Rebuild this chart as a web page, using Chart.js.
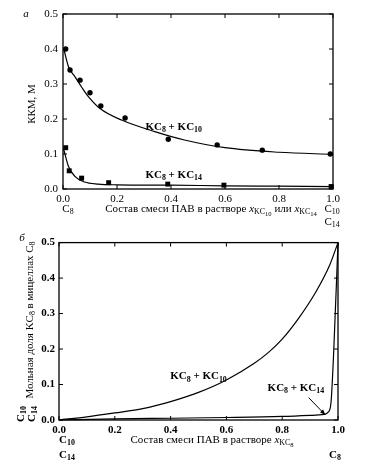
<!DOCTYPE html>
<html><head><meta charset="utf-8">
<script src="https://cdn.jsdelivr.net/npm/chart.js@4"></script>
<style>
body{margin:0;background:#fff;width:372px;height:468px;overflow:hidden;position:relative}
canvas{position:absolute;left:0}
</style></head>
<body>
<canvas id="a" width="372" height="232" style="top:0"></canvas>
<canvas id="b" width="372" height="236" style="top:232px"></canvas>
<script>
// ---- tick values ----
const xTicks = [0, 0.2, 0.4, 0.6, 0.8, 1.0];
const yTicks = [0, 0.1, 0.2, 0.3, 0.4, 0.5];

// ---- panel а : ККМ vs composition ----
const aC10PtsX   = [0.01, 0.026, 0.063, 0.10, 0.14, 0.23, 0.39, 0.571, 0.738, 0.99];
const aC10PtsY   = [0.400, 0.340, 0.311, 0.275, 0.237, 0.203, 0.142, 0.126, 0.111, 0.100];
const aC10CurveX = [0.003, 0.02, 0.044, 0.07, 0.094, 0.137, 0.217, 0.34, 0.45, 0.6, 0.8, 1.0];
const aC10CurveY = [0.400, 0.350, 0.321, 0.290, 0.264, 0.230, 0.197, 0.164, 0.140, 0.118, 0.105, 0.099];
const aC14PtsX   = [0.01, 0.023, 0.069, 0.169, 0.388, 0.596, 0.993];
const aC14PtsY   = [0.118, 0.052, 0.031, 0.018, 0.014, 0.011, 0.007];
const aC14CurveX = [0.002, 0.02, 0.044, 0.08, 0.13, 0.2, 0.4, 0.6, 0.8, 1.0];
const aC14CurveY = [0.115, 0.065, 0.036, 0.020, 0.014, 0.012, 0.011, 0.009, 0.008, 0.007];

// ---- panel б : micelle mole fraction ----
const bC10CurveX = [0, 0.1, 0.2, 0.3, 0.4, 0.5, 0.6, 0.7, 0.75, 0.8, 0.86, 0.92, 0.97, 1.0];
const bC10CurveY = [0, 0.009, 0.020, 0.032, 0.052, 0.078, 0.113, 0.160, 0.190, 0.228, 0.288, 0.360, 0.436, 0.500];
const bC14CurveX = [0, 0.2, 0.4, 0.6, 0.8, 0.9, 0.95, 0.965, 0.975, 0.985, 1.0];
const bC14CurveY = [0, 0.003, 0.005, 0.007, 0.010, 0.013, 0.016, 0.022, 0.050, 0.200, 0.500];

const SERIF = '"Liberation Serif","DejaVu Serif",serif';
function pts(xs, ys) { return xs.map((x, i) => ({x: x, y: ys[i]})); }

// rich text: parts = [[text, level, italic]]
function rich(ctx, parts, x, y, align, size, bold) {
  const sz = [size, size * 0.72, size * 0.6];
  const off = [0, size * 0.3, size * 0.5];
  const fontOf = p => (p[2] ? 'italic ' : '') + (bold ? 'bold ' : '') + sz[p[1] || 0].toFixed(1) + 'px ' + SERIF;
  let w = 0;
  parts.forEach(p => { ctx.font = fontOf(p); w += ctx.measureText(p[0]).width; });
  let cx = align === 'center' ? x - w / 2 : (align === 'right' ? x - w : x);
  ctx.textAlign = 'left';
  ctx.textBaseline = 'middle';
  ctx.fillStyle = '#000';
  parts.forEach(p => {
    ctx.font = fontOf(p);
    ctx.fillText(p[0], cx, y + off[p[1] || 0]);
    cx += ctx.measureText(p[0]).width;
  });
}
function richRot(ctx, parts, x, y, size, bold) {
  ctx.save(); ctx.translate(x, y); ctx.rotate(-Math.PI / 2);
  rich(ctx, parts, 0, 0, 'center', size, bold);
  ctx.restore();
}

function framePlugin(annotate) {
  return {
    id: 'frame',
    afterDraw(chart) {
      const ctx = chart.ctx, ca = chart.chartArea;
      const sx = chart.scales.x, sy = chart.scales.y;
      ctx.save();
      ctx.strokeStyle = '#000'; ctx.lineWidth = 1.3;
      ctx.strokeRect(ca.left, ca.top, ca.right - ca.left, ca.bottom - ca.top);
      ctx.lineWidth = 1;
      ctx.beginPath();
      xTicks.forEach(v => {
        const px = sx.getPixelForValue(v);
        ctx.moveTo(px, ca.bottom); ctx.lineTo(px, ca.bottom - 4);
        ctx.moveTo(px, ca.top); ctx.lineTo(px, ca.top + 4);
      });
      yTicks.forEach(v => {
        const py = sy.getPixelForValue(v);
        ctx.moveTo(ca.left, py); ctx.lineTo(ca.left + 4, py);
        ctx.moveTo(ca.right, py); ctx.lineTo(ca.right - 4, py);
      });
      ctx.stroke();
      annotate(ctx, sx, sy, ca);
      ctx.restore();
    }
  };
}

function curve(xs, ys) {
  return {data: pts(xs, ys), showLine: true, pointRadius: 0, borderColor: '#000',
          borderWidth: 1.2, cubicInterpolationMode: 'monotone', clip: false};
}
function marks(xs, ys, style, r) {
  return {data: pts(xs, ys), showLine: false, pointStyle: style, pointRadius: r,
          pointBackgroundColor: '#000', pointBorderWidth: 0, clip: false};
}

function makeChart(id, datasets, pad, tickBold, labelPad, annotate) {
  const font = {family: SERIF, size: 11, weight: tickBold ? 'bold' : 'normal'};
  return new Chart(document.getElementById(id), {
    type: 'scatter',
    data: {datasets: datasets},
    options: {
      responsive: false, animation: false, devicePixelRatio: 1,
      layout: {padding: pad},
      plugins: {legend: {display: false}, tooltip: {enabled: false}},
      scales: {
        x: {type: 'linear', min: 0, max: 1,
            afterBuildTicks: s => { s.ticks = xTicks.map(v => ({value: v})); },
            grid: {display: false, drawTicks: false}, border: {display: false},
            ticks: {font: font, color: '#000', padding: 4, autoSkip: false, maxRotation: 0,
                    callback: v => Number(v).toFixed(1)},
            afterFit: s => { s.height = 20; }},
        y: {type: 'linear', min: 0, max: 0.5,
            afterBuildTicks: s => { s.ticks = yTicks.map(v => ({value: v})); },
            grid: {display: false, drawTicks: false}, border: {display: false},
            ticks: {font: font, color: '#000', padding: labelPad, autoSkip: false,
                    callback: v => Number(v).toFixed(1)},
            afterFit: s => { s.width = 40; }}
      }
    },
    plugins: [framePlugin(annotate)]
  });
}

// ---- chart а ----
makeChart('a', [
  curve(aC10CurveX, aC10CurveY),
  curve(aC14CurveX, aC14CurveY),
  marks(aC10PtsX, aC10PtsY, 'circle', 2.7),
  marks(aC14PtsX, aC14PtsY, 'rect', 3.5)
], {left: 23, right: 39, top: 14, bottom: 23}, false, 5, (ctx, sx, sy, ca) => {
  rich(ctx, [['а', 0, true]], 26, 14, 'center', 11, false);
  richRot(ctx, [['ККМ, М', 0]], 32, 104, 11, false);
  rich(ctx, [['KC', 0], ['8', 1], [' + KC', 0], ['10', 1]], sx.getPixelForValue(0.41), sy.getPixelForValue(0.177), 'center', 11, true);
  rich(ctx, [['KC', 0], ['8', 1], [' + KC', 0], ['14', 1]], sx.getPixelForValue(0.41), sy.getPixelForValue(0.040), 'center', 11, true);
  rich(ctx, [['C', 0], ['8', 1]], 68, 209, 'center', 11, false);
  rich(ctx, [['Состав смеси ПАВ в растворе ', 0], ['x', 0, true], ['KC', 1], ['10', 2], [' или ', 0], ['x', 0, true], ['KC', 1], ['14', 2]], 211, 209, 'center', 11, false);
  rich(ctx, [['C', 0], ['10', 1]], 332, 209, 'center', 11, false);
  rich(ctx, [['C', 0], ['14', 1]], 332, 222, 'center', 11, false);
});

// ---- chart б ----
makeChart('b', [
  curve(bC10CurveX, bC10CurveY),
  curve(bC14CurveX, bC14CurveY)
], {left: 19, right: 34, top: 5, bottom: 28}, true, 4, (ctx, sx, sy, ca) => {
  rich(ctx, [['б', 0, true]], 22, 6, 'center', 11, false);
  richRot(ctx, [['Мольная доля KC', 0], ['8', 1], [' в мицеллах C', 0], ['8', 1]], 30, 88, 11, false);
  richRot(ctx, [['C', 0], ['10', 1]], 21, 182, 11, true);
  richRot(ctx, [['C', 0], ['14', 1]], 32, 182, 11, true);
  rich(ctx, [['KC', 0], ['8', 1], [' + KC', 0], ['10', 1]], sx.getPixelForValue(0.50), sy.getPixelForValue(0.123), 'center', 11, true);
  rich(ctx, [['KC', 0], ['8', 1], [' + KC', 0], ['14', 1]], sx.getPixelForValue(0.849), sy.getPixelForValue(0.090), 'center', 11, true);
  // arrow
  const x1 = sx.getPixelForValue(0.895), y1 = sy.getPixelForValue(0.063);
  const x2 = sx.getPixelForValue(0.955), y2 = sy.getPixelForValue(0.014);
  ctx.strokeStyle = '#000'; ctx.lineWidth = 1;
  ctx.beginPath(); ctx.moveTo(x1, y1); ctx.lineTo(x2, y2); ctx.stroke();
  const ang = Math.atan2(y2 - y1, x2 - x1);
  ctx.beginPath();
  ctx.moveTo(x2, y2);
  ctx.lineTo(x2 - 6 * Math.cos(ang - 0.35), y2 - 6 * Math.sin(ang - 0.35));
  ctx.lineTo(x2 - 6 * Math.cos(ang + 0.35), y2 - 6 * Math.sin(ang + 0.35));
  ctx.closePath(); ctx.fillStyle = '#000'; ctx.fill();
  rich(ctx, [['C', 0], ['10', 1]], 67, 208, 'center', 11, true);
  rich(ctx, [['C', 0], ['14', 1]], 67, 223, 'center', 11, true);
  rich(ctx, [['Состав смеси ПАВ в растворе ', 0], ['x', 0, true], ['KC', 1], ['8', 2]], 212, 208, 'center', 11, false);
  rich(ctx, [['C', 0], ['8', 1]], 335, 223, 'center', 11, true);
});
</script>
</body></html>
